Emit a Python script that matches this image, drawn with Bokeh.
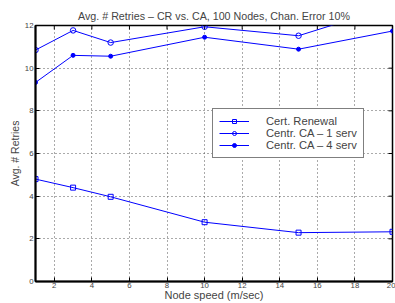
from bokeh.plotting import figure
from bokeh.models import Range1d, FixedTicker, Legend, LegendItem
from bokeh.embed import file_html
from bokeh.resources import INLINE

speed = [1, 3, 5, 10, 15, 20]
cert_renewal = [4.80, 4.40, 3.97, 2.78, 2.29, 2.33]
ca_1_serv = [10.85, 11.77, 11.20, 11.94, 11.52, 12.90]
ca_4_serv = [9.33, 10.60, 10.56, 11.45, 10.89, 11.74]
x_ticks = [2, 4, 6, 8, 10, 12, 14, 16, 18, 20]
y_ticks = [0, 2, 4, 6, 8, 10, 12]
x_min, x_max = 1, 20
y_min, y_max = 0, 12

FONT = "Liberation Sans"
BLUE = "#0000ff"

p = figure(width=395, height=303, output_backend="svg", toolbar_location=None,
           x_range=Range1d(x_min, x_max), y_range=Range1d(y_min, y_max),
           title="Avg. # Retries \u2013 CR vs. CA, 100 Nodes, Chan. Error 10%",
           min_border_left=35, min_border_right=3, min_border_top=25, min_border_bottom=0)

p.title.text_font = FONT
p.title.text_font_size = "10.7px"
p.title.text_font_style = "normal"
p.title.align = "center"
p.title.offset = 0
p.title.standoff = 7

for ax in (p.xaxis[0], p.yaxis[0]):
    ax.major_label_text_font = FONT
    ax.major_label_text_font_size = "7.8px"
    ax.axis_label_text_font = FONT
    ax.axis_label_text_font_style = "normal"
    ax.major_tick_in = 4
    ax.major_tick_out = 0
    ax.minor_tick_in = 0
    ax.minor_tick_out = 0
    ax.axis_line_color = "black"
    ax.axis_line_width = 2
    ax.major_tick_line_color = "black"
    ax.major_label_standoff = 2
    ax.axis_label_standoff = 0

p.xaxis.axis_label_text_font_size = "11px"
p.yaxis.axis_label_text_font_size = "10.5px"
p.xaxis.major_label_standoff = 1
p.xaxis.axis_label_standoff = -2
p.yaxis.axis_label_standoff = 1
p.xaxis.ticker = FixedTicker(ticks=x_ticks)
p.yaxis.ticker = FixedTicker(ticks=y_ticks)
p.xaxis.axis_label = "Node speed (m/sec)"
p.yaxis.axis_label = "Avg. # Retries"

p.xgrid.ticker = FixedTicker(ticks=x_ticks)
p.ygrid.ticker = FixedTicker(ticks=y_ticks)
for g in (p.xgrid[0], p.ygrid[0]):
    g.grid_line_color = "#555555"
    g.grid_line_dash = "1 3"
    g.grid_line_width = 1

p.outline_line_color = "black"
p.outline_line_width = 1.5
p.background_fill_color = "white"

# inward tick marks on the top and right edges (half of each dash is clipped by the frame)
p.scatter(x_ticks, [y_max] * len(x_ticks), marker="dash", angle=1.5708, size=8,
          line_color="black", line_width=1)
p.scatter([x_max] * len(y_ticks), y_ticks, marker="dash", size=8,
          line_color="black", line_width=1)

r1l = p.line(speed, cert_renewal, line_color=BLUE, line_width=1)
r1m = p.scatter(speed, cert_renewal, marker="square", size=5, line_color=BLUE, fill_color=None, line_width=1)
r2l = p.line(speed, ca_1_serv, line_color=BLUE, line_width=1)
r2m = p.scatter(speed, ca_1_serv, marker="circle", size=5.5, line_color=BLUE, fill_color=None, line_width=1)
r3l = p.line(speed, ca_4_serv, line_color=BLUE, line_width=1)
r3m = p.scatter(speed, ca_4_serv, marker="circle", size=4, line_color=BLUE, fill_color=BLUE)

legend = Legend(items=[
    LegendItem(label="Cert. Renewal", renderers=[r1l, r1m]),
    LegendItem(label="Centr. CA \u2013 1 serv", renderers=[r2l, r2m]),
    LegendItem(label="Centr. CA \u2013 4 serv", renderers=[r3l, r3m]),
], location=(177, 123))
legend.label_text_font = FONT
legend.label_text_font_size = "11.2px"
legend.label_text_line_height = 0.7
legend.label_height = 10
legend.glyph_height = 10
legend.glyph_width = 30
legend.spacing = 0
legend.padding = 6
legend.margin = 0
legend.label_standoff = 17
legend.border_line_color = "black"
legend.border_line_width = 1.5
legend.background_fill_alpha = 1
p.add_layout(legend, "center")

open("out.html", "w").write(file_html(p, INLINE))
